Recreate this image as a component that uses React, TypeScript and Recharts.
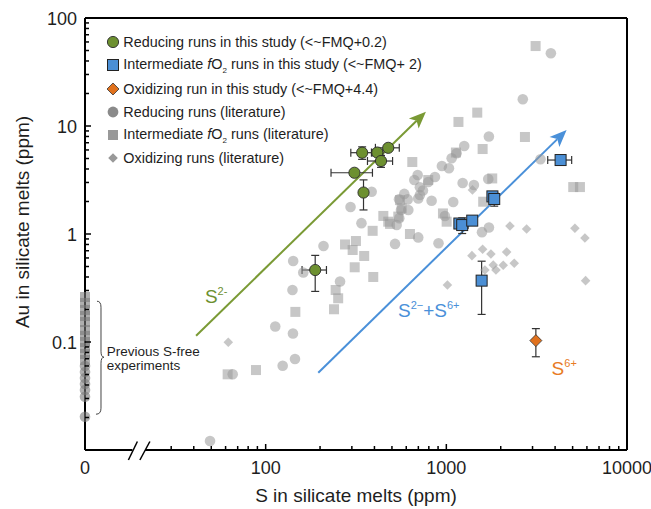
import React from "react";
import {
  ScatterChart,
  Scatter,
  XAxis,
  YAxis,
  ErrorBar,
  ReferenceLine,
  ReferenceDot,
  Legend,
} from "recharts";

const FONT = "'Liberation Sans', Arial, Helvetica, sans-serif";

const GREEN = "#6d9030";
const BLUE = "#4b8fd5";
const ORANGE = "#e0711d";
const GREY = "#999999";
const INK = "#1e1e1e";

// axis ticks (S = 0 is drawn at the left end of the log axis, value 10)
const xMajorTicks = [10, 100, 1000, 10000];
const xMinorTicks = [30, 40, 50, 60, 70, 80, 90, 200, 300, 400, 500, 600, 700, 800, 900, 2000, 3000, 4000, 5000, 6000, 7000, 8000, 9000];
const xTickLabels: Record<string, string> = { "10": "0", "100": "100", "1000": "1000", "10000": "10000" };
const yMajorTicks = [0.1, 1, 10, 100];
const yMinorTicks = [
  0.02, 0.03, 0.04, 0.05, 0.06, 0.07, 0.08, 0.09,
  0.2, 0.3, 0.4, 0.5, 0.6, 0.7, 0.8, 0.9,
  2, 3, 4, 5, 6, 7, 8, 9,
  20, 30, 40, 50, 60, 70, 80, 90,
];
const yTickLabels: Record<string, string> = { "0.1": "0.1", "1": "1", "10": "10", "100": "100" };

// this study: [S ppm, Au ppm, S error, Au error]
const reducingRuns = [
  [342, 5.66, 46, 0.75],
  [415, 5.68, 30, 0],
  [477, 6.28, 72, 0],
  [435, 4.74, 69, 0.6],
  [310, 3.69, 80, 0],
  [348, 2.42, 0, 0.75],
  [188, 0.464, 29, 0.17],
];
const intermediateRuns = [
  [1181, 1.25, 0, 0],
  [1224, 1.21, 95, 0.2],
  [1391, 1.33, 0, 0],
  [1799, 2.23, 0, 0],
  [1841, 2.11, 0, 0.3],
  [1568, 0.37, 0, 0.19],
  [4290, 4.84, 650, 0],
];
const oxidizingRuns = [[3130, 0.103, 0, 0.03]];

// literature: [S ppm, Au ppm]
const litReducing = [
  [3790, 47.1], [2650, 17.7], [1720, 8.0], [3320, 4.92], [1256, 6.53], [1140, 5.59],
  [1070, 5.02], [945, 4.26], [1034, 4.06], [694, 3.52], [865, 3.37], [665, 3.16],
  [794, 3.03], [1231, 2.97], [1421, 2.84], [1706, 3.23], [386, 2.46], [714, 2.71],
  [742, 2.53], [714, 2.3], [699, 2.13], [585, 2.35], [547, 2.1], [611, 2.09],
  [829, 2.03], [1092, 1.98], [295, 1.78], [616, 1.67], [561, 1.67], [531, 1.21],
  [549, 1.4], [339, 1.26], [699, 0.93], [520, 0.81], [905, 0.82], [1575, 1.04],
  [1721, 1.15], [209, 0.774], [142, 0.562], [161.5, 0.44], [140.7, 0.303], [258, 0.363],
  [113, 0.139], [141.6, 0.12], [145.3, 0.0696], [124.2, 0.0603], [65.7, 0.0502],
  [49.2, 0.0121], [982, 1.47],
];
const litIntermediate = [
  [3120, 55.0], [1483, 13.3], [1167, 10.9], [2723, 7.91], [1588, 6.12], [1130, 5.68],
  [648, 4.64], [794, 3.16], [1795, 3.27], [5040, 2.72], [5490, 2.72], [1600, 1.99],
  [554, 2.06], [566, 1.73], [448, 1.47], [477, 1.3], [542, 1.45], [958, 1.55],
  [1004, 1.3], [391, 1.07], [629, 1.0], [316, 0.861], [275, 0.8], [303, 0.711],
  [351, 0.626], [311, 0.492], [394, 0.4], [244, 0.303], [252, 0.254], [239, 0.201],
  [146, 0.19], [88.4, 0.055], [61.6, 0.0502], [488, 1.24],
];
const litOxidizing = [
  [62.1, 0.0994], [1395, 2.56], [2249, 1.186], [2782, 1.112], [5148, 1.13], [1386, 0.63],
  [1588, 0.722], [1765, 0.653], [2157, 0.681], [1818, 0.516], [1882, 0.464], [1635, 0.464],
  [2065, 0.513], [2376, 0.536], [5848, 0.918], [5900, 0.37], [1014, 0.337],
];
// previous S-free experiments, S = 0
const sFreeSquares = [0.261, 0.23, 0.198, 0.174, 0.153, 0.129, 0.114, 0.1, 0.088, 0.0774, 0.0681];
const sFreeCircles = [0.0599, 0.0528, 0.0464, 0.0408, 0.0359, 0.0311, 0.0203];

const legendLabels = [
  "Reducing runs in this study (<~FMQ+0.2)",
  "Intermediate {fO2} runs in this study (<~FMQ+ 2)",
  "Oxidizing run in this study (<~FMQ+4.4)",
  "Reducing runs (literature)",
  "Intermediate {fO2} runs (literature)",
  "Oxidizing runs (literature)",
];

const toRuns = (rows: number[][]) => rows.map(([x, y, ex, ey]) => ({ x, y, ex, ey }));
const toPoints = (rows: number[][]) => rows.map(([x, y]) => ({ x, y }));
const toFree = (vals: number[]) => vals.map((y) => ({ x: 10, y }));

const diamond = (cx: number, cy: number, h: number) =>
  `${cx},${cy - h} ${cx + h},${cy} ${cx},${cy + h} ${cx - h},${cy}`;

const GreyCircle = (p: any) => <circle cx={p.cx} cy={p.cy} r={5.3} fill={GREY} fillOpacity={0.55} />;
const GreySquare = (p: any) => (
  <rect x={p.cx - 5} y={p.cy - 5} width={10} height={10} fill={GREY} fillOpacity={0.55} />
);
const GreyDiamond = (p: any) => <polygon points={diamond(p.cx, p.cy, 4.8)} fill={GREY} fillOpacity={0.55} />;
const FreeCircle = (p: any) => <circle cx={p.cx} cy={p.cy} r={5.3} fill="#7a7a7a" fillOpacity={0.6} />;
const FreeSquare = (p: any) => (
  <rect x={p.cx - 5} y={p.cy - 5} width={10} height={10} fill="#7a7a7a" fillOpacity={0.6} />
);
const GreenDot = (p: any) => <circle cx={p.cx} cy={p.cy} r={5.6} fill={GREEN} stroke="#2a2a2a" strokeWidth={0.9} />;
const BlueSquare = (p: any) => (
  <rect x={p.cx - 5.5} y={p.cy - 5.5} width={11} height={11} fill={BLUE} stroke="#222" strokeWidth={1} />
);
const OrangeDiamond = (p: any) => (
  <polygon points={diamond(p.cx, p.cy, 6)} fill={ORANGE} stroke="#333" strokeWidth={0.8} />
);

const XTick = (props: any) => {
  const { x, y, payload } = props;
  const v = payload.value;
  const major = xMajorTicks.includes(v);
  return (
    <g>
      <line x1={x} y1={y} x2={x} y2={y - (major ? 6 : 4)} stroke="#000" strokeWidth={1.5} />
      {major && (
        <text x={x} y={y + 24} textAnchor="middle" fontSize={18} fill={INK} fontFamily={FONT}>
          {xTickLabels[String(v)]}
        </text>
      )}
    </g>
  );
};

const YTick = (props: any) => {
  const { x, y, payload } = props;
  const v = payload.value;
  const major = yMajorTicks.includes(v);
  return (
    <g>
      <line x1={x} y1={y} x2={x + (major ? 6 : 4)} y2={y} stroke="#000" strokeWidth={1.5} />
      {major && (
        <text x={x - 8} y={y + 6.5} textAnchor="end" fontSize={18} fill={INK} fontFamily={FONT}>
          {yTickLabels[String(v)]}
        </text>
      )}
    </g>
  );
};

const arrowShape = (color: string) => (p: any) => {
  const { x1, y1, x2, y2 } = p;
  const dx = x2 - x1;
  const dy = y2 - y1;
  const len = Math.hypot(dx, dy);
  const ux = dx / len;
  const uy = dy / len;
  const hl = 17;
  const hw = 7;
  const bx = x2 - ux * hl;
  const by = y2 - uy * hl;
  const nx = bx + ux * 4;
  const ny = by + uy * 4;
  return (
    <g>
      <line x1={x1} y1={y1} x2={nx} y2={ny} stroke={color} strokeWidth={2} />
      <polygon
        points={`${x2},${y2} ${bx - uy * hw},${by + ux * hw} ${nx},${ny} ${bx + uy * hw},${by - ux * hw}`}
        fill={color}
      />
    </g>
  );
};

const legendMarker = (i: number) => {
  switch (i) {
    case 0:
      return <circle cx={8} cy={8} r={5.6} fill={GREEN} stroke="#2a2a2a" strokeWidth={0.9} />;
    case 1:
      return <rect x={2.5} y={2.5} width={11} height={11} fill={BLUE} stroke="#222" strokeWidth={1} />;
    case 2:
      return <polygon points={diamond(8, 8, 6)} fill={ORANGE} stroke="#333" strokeWidth={0.8} />;
    case 3:
      return <circle cx={8} cy={8} r={5.4} fill="#8a8a8a" />;
    case 4:
      return <rect x={3} y={3} width={10} height={10} fill="#999" />;
    default:
      return <polygon points={diamond(8, 8, 4.8)} fill="#999" />;
  }
};

const renderLabel = (s: string) => {
  const parts = s.split("{fO2}");
  if (parts.length === 1) return s;
  return (
    <>
      {parts[0]}
      <i>f</i>O<sub style={{ fontSize: 8 }}>2</sub>
      {parts[1]}
    </>
  );
};

const LegendBox = () => (
  <div style={{ fontFamily: FONT, fontSize: 14.4, color: INK }}>
    {legendLabels.map((label, i) => (
      <div key={i} style={{ height: 23.2, display: "flex", alignItems: "center", whiteSpace: "nowrap" }}>
        <svg width={16} height={16} style={{ flex: "none" }}>
          {legendMarker(i)}
        </svg>
        <span style={{ marginLeft: 2.3 }}>{renderLabel(label)}</span>
      </div>
    ))}
  </div>
);

export default function App() {
  return (
    <div
      style={{
        position: "absolute",
        left: 0,
        top: 0,
        width: 651,
        height: 509,
        background: "#fff",
        fontFamily: FONT,
      }}
    >
      <ScatterChart width={651} height={509} margin={{ top: 18, right: 24, bottom: 7, left: 25 }}>
        <XAxis
          type="number"
          dataKey="x"
          scale="log"
          domain={[10, 10000]}
          ticks={[...xMajorTicks, ...xMinorTicks]}
          interval={0}
          tick={(p: any) => <XTick {...p} />}
          tickLine={false}
          tickSize={0}
          tickMargin={0}
          axisLine={false}
          height={52}
          label={{
            content: (p: any) => {
              const vb = p.viewBox;
              return (
                <text
                  x={vb.x + vb.width / 2}
                  y={vb.y + 52}
                  textAnchor="middle"
                  fontSize={19}
                  fill={INK}
                  fontFamily={FONT}
                >
                  S in silicate melts (ppm)
                </text>
              );
            },
          }}
        />
        <YAxis
          type="number"
          dataKey="y"
          scale="log"
          domain={[0.01, 100]}
          ticks={[...yMajorTicks, ...yMinorTicks]}
          interval={0}
          tick={(p: any) => <YTick {...p} />}
          tickLine={false}
          tickSize={0}
          tickMargin={0}
          axisLine={{ stroke: "#000", strokeWidth: 2 }}
          width={60}
          label={{
            content: (p: any) => {
              const vb = p.viewBox;
              const cx = 22.5;
              const cy = vb.y + vb.height / 2 - 12;
              return (
                <text
                  x={cx}
                  y={cy}
                  transform={`rotate(-90, ${cx}, ${cy})`}
                  textAnchor="middle"
                  dominantBaseline="central"
                  fontSize={19}
                  fill={INK}
                  fontFamily={FONT}
                >
                  Au in silicate melts (ppm)
                </text>
              );
            },
          }}
        />

        {/* frame and broken x axis */}
        <ReferenceLine y={100} stroke="#000" strokeWidth={2} />
        <ReferenceLine x={10000} stroke="#000" strokeWidth={2} />
        <ReferenceLine
          segment={[{ x: 10, y: 0.01 }, { x: 18.3, y: 0.01 }]}
          stroke="#000"
          strokeWidth={2}
          ifOverflow="visible"
        />
        <ReferenceLine
          segment={[{ x: 21.5, y: 0.01 }, { x: 10000, y: 0.01 }]}
          stroke="#000"
          strokeWidth={2}
          ifOverflow="visible"
        />
        <ReferenceDot
          x={20}
          y={0.01}
          ifOverflow="visible"
          shape={(p: any) => (
            <g stroke="#000" strokeWidth={1.5}>
              <line x1={p.cx - 11} y1={p.cy + 10} x2={p.cx - 2} y2={p.cy - 8.5} />
              <line x1={p.cx + 0.5} y1={p.cy + 10} x2={p.cx + 10.5} y2={p.cy - 8.5} />
            </g>
          )}
        />

        {/* literature data */}
        <Scatter data={toFree(sFreeSquares)} shape={FreeSquare} isAnimationActive={false} />
        <Scatter data={toFree(sFreeCircles)} shape={FreeCircle} isAnimationActive={false} />
        <Scatter data={toPoints(litIntermediate)} shape={GreySquare} isAnimationActive={false} />
        <Scatter data={toPoints(litReducing)} shape={GreyCircle} isAnimationActive={false} />
        <Scatter data={toPoints(litOxidizing)} shape={GreyDiamond} isAnimationActive={false} />

        {/* trend arrows */}
        <ReferenceLine
          segment={[{ x: 41.2, y: 0.1144 }, { x: 771, y: 13.56 }]}
          shape={arrowShape("#7a9a35")}
        />
        <ReferenceLine
          segment={[{ x: 195.5, y: 0.052 }, { x: 4632, y: 9.18 }]}
          shape={arrowShape("#4a90d9")}
        />

        {/* this study */}
        <Scatter data={toRuns(reducingRuns)} shape={GreenDot} isAnimationActive={false}>
          <ErrorBar dataKey="ex" direction="x" width={4} stroke="#333" strokeWidth={1.2} />
          <ErrorBar dataKey="ey" direction="y" width={4} stroke="#333" strokeWidth={1.2} />
        </Scatter>
        <Scatter data={toRuns(intermediateRuns)} shape={BlueSquare} isAnimationActive={false}>
          <ErrorBar dataKey="ex" direction="x" width={4} stroke="#333" strokeWidth={1.2} />
          <ErrorBar dataKey="ey" direction="y" width={4} stroke="#333" strokeWidth={1.2} />
        </Scatter>
        <Scatter data={toRuns(oxidizingRuns)} shape={OrangeDiamond} isAnimationActive={false}>
          <ErrorBar dataKey="ey" direction="y" width={4} stroke="#333" strokeWidth={1.2} />
        </Scatter>

        {/* annotations */}
        <ReferenceDot
          x={46.1}
          y={0.23}
          shape={(p: any) => (
            <text x={p.cx} y={p.cy} fontSize={19} fill={GREEN} fontFamily={FONT}>
              S<tspan dy={-8} fontSize={11}>2-</tspan>
            </text>
          )}
        />
        <ReferenceDot
          x={540}
          y={0.1704}
          shape={(p: any) => (
            <text x={p.cx} y={p.cy} fontSize={19} fill="#4a90d9" fontFamily={FONT}>
              S<tspan dy={-8} fontSize={11}>2−</tspan>
              <tspan dy={8}>+S</tspan>
              <tspan dy={-8} fontSize={11}>6+</tspan>
            </text>
          )}
        />
        <ReferenceDot
          x={3826}
          y={0.0495}
          shape={(p: any) => (
            <text x={p.cx} y={p.cy} fontSize={19} fill="#e87b24" fontFamily={FONT}>
              S<tspan dy={-8} fontSize={11}>6+</tspan>
            </text>
          )}
        />
        <ReferenceDot
          x={13.2}
          y={0.0742}
          shape={(p: any) => (
            <g fontSize={13.5} fill={INK} fontFamily={FONT}>
              <text x={p.cx} y={p.cy}>Previous S-free</text>
              <text x={p.cx} y={p.cy + 14.5}>experiments</text>
            </g>
          )}
        />
        <ReferenceDot
          x={12.26}
          y={0.0723}
          shape={(p: any) => (
            <path
              transform={`translate(${p.cx}, ${p.cy})`}
              d="M -4 -56 Q 0 -56 0 -50 L 0 -6 Q 0 0 3 0 Q 0 0 0 6 L 0 51 Q 0 57 -5 57"
              fill="none"
              stroke="#444"
              strokeWidth={1}
            />
          )}
        />

        <Legend
          layout="vertical"
          align="center"
          verticalAlign="middle"
          wrapperStyle={{ left: 105, top: 30.7, width: 340 }}
          content={() => <LegendBox />}
        />
      </ScatterChart>
    </div>
  );
}
